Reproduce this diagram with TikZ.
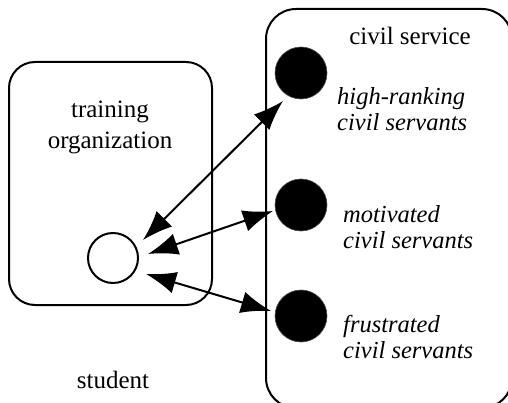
\documentclass[tikz,border=0pt]{standalone}
\usepackage{fontspec}
\setmainfont{Liberation Serif}
\usetikzlibrary{arrows.meta}
\begin{document}
\begin{tikzpicture}[x=1pt,y=-1pt,
  box/.style={draw,line width=2pt,rounded corners=26pt},
  lbl/.style={font=\fontsize{25}{31}\selectfont,align=center,inner sep=0pt},
  ilbl/.style={font=\fontsize{24.5}{26}\selectfont\itshape,align=left,anchor=west,inner sep=0pt},
  dot/.style={circle,fill=black,draw=black!70,line width=0.6pt,minimum size=52pt,inner sep=0pt},
  student/.style={circle,draw,line width=2pt,minimum size=50pt,inner sep=0pt},
  link/.style={line width=2pt,{Latex[length=30pt,width=22pt]}-{Latex[length=30pt,width=22pt]}}
]
\clip (0,0) rectangle (508,403);
\fill[white] (0,0) rectangle (508,403);
\draw[box] (9,62) rectangle (212,305);
\draw[box,rounded corners=30pt] (266,9) rectangle (512,408);
\node[lbl] (to) at (110,127) {training\\organization};
\node[lbl] (cs) at (410,36) {civil service};
\node[lbl] (st) at (113,380) {student};
\node[student] (s) at (113,258) {};
\node[dot] (h) at (301,73) {};
\node[dot] (m) at (301,205) {};
\node[dot] (f) at (301,316) {};
\node[ilbl] (hl) at (337,109) {high-ranking\\civil servants};
\node[ilbl] (ml) at (343,227) {motivated\\civil servants};
\node[ilbl] (fl) at (343,337) {frustrated\\civil servants};
\coordinate (a1) at (143,240);
\coordinate (a2) at (148,254);
\coordinate (a3) at (146,274);
\coordinate (t1) at (283,101);
\coordinate (t2) at (273,211);
\coordinate (t3) at (271,311);
\draw[link] (a1) -- (t1);
\draw[link] (a2) -- (t2);
\draw[link] (a3) -- (t3);
\end{tikzpicture}
\end{document}
